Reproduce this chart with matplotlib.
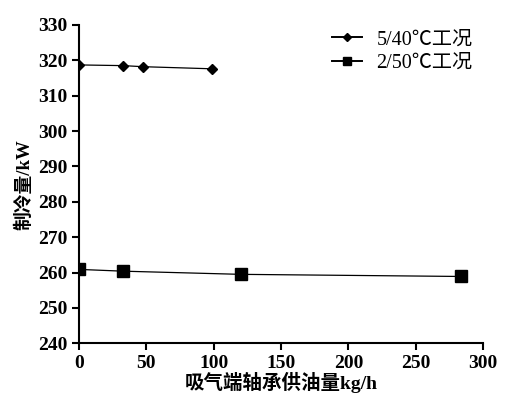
import matplotlib
matplotlib.use("Agg")
import matplotlib.pyplot as plt

# __ data __
flow_a = [0, 33, 47.5, 99]
cap_a = [318.7, 318.5, 318.2, 317.6]
flow_b = [0, 32.5, 120, 283.5]
cap_b = [260.9, 260.4, 259.5, 258.9]
label_a = "5/40℃工况"
label_b = "2/50℃工况"
x_ticks = [0, 50, 100, 150, 200, 250, 300]
y_ticks = [240, 250, 260, 270, 280, 290, 300, 310, 320, 330]

fam = ["Liberation Serif", "Noto Sans CJK SC"]

fig = plt.figure(figsize=(5.06, 3.96), dpi=100)
ax = fig.add_axes([0.156, 0.133, 0.799, 0.804])

ax.plot(flow_a, cap_a, color="black", lw=0.9, marker="D", ms=5.5, label=label_a)
ax.plot(flow_b, cap_b, color="black", lw=0.9, marker="s", ms=8, label=label_b)

ax.set_xlim(0, 300)
ax.set_ylim(240, 330)
ax.set_xticks(x_ticks)
ax.set_yticks(y_ticks)
for s in ["top", "right"]:
    ax.spines[s].set_visible(False)
for s in ["left", "bottom"]:
    ax.spines[s].set_linewidth(1.5)
ax.tick_params(direction="out", length=5, width=1.5)
for lab in ax.get_xticklabels() + ax.get_yticklabels():
    lab.set_family(fam)
    lab.set_fontweight("bold")
    lab.set_fontsize(14)

ax.set_xlabel("吸气端轴承供油量kg/h", family=fam, fontweight="bold", fontsize=14, labelpad=0)
ax.set_ylabel("制冷量/kW", family=fam, fontweight="bold", fontsize=13.5, labelpad=3)

leg = ax.legend(loc="upper right", bbox_to_anchor=(1.018, 1.04), frameon=False,
                prop={"family": fam, "size": 14.5}, handlelength=1.5,
                handletextpad=0.7, labelspacing=0.2, markerscale=0.8)
for h in leg.get_lines():
    h.set_linewidth(1.4)

fig.savefig("out.png", dpi=100)
